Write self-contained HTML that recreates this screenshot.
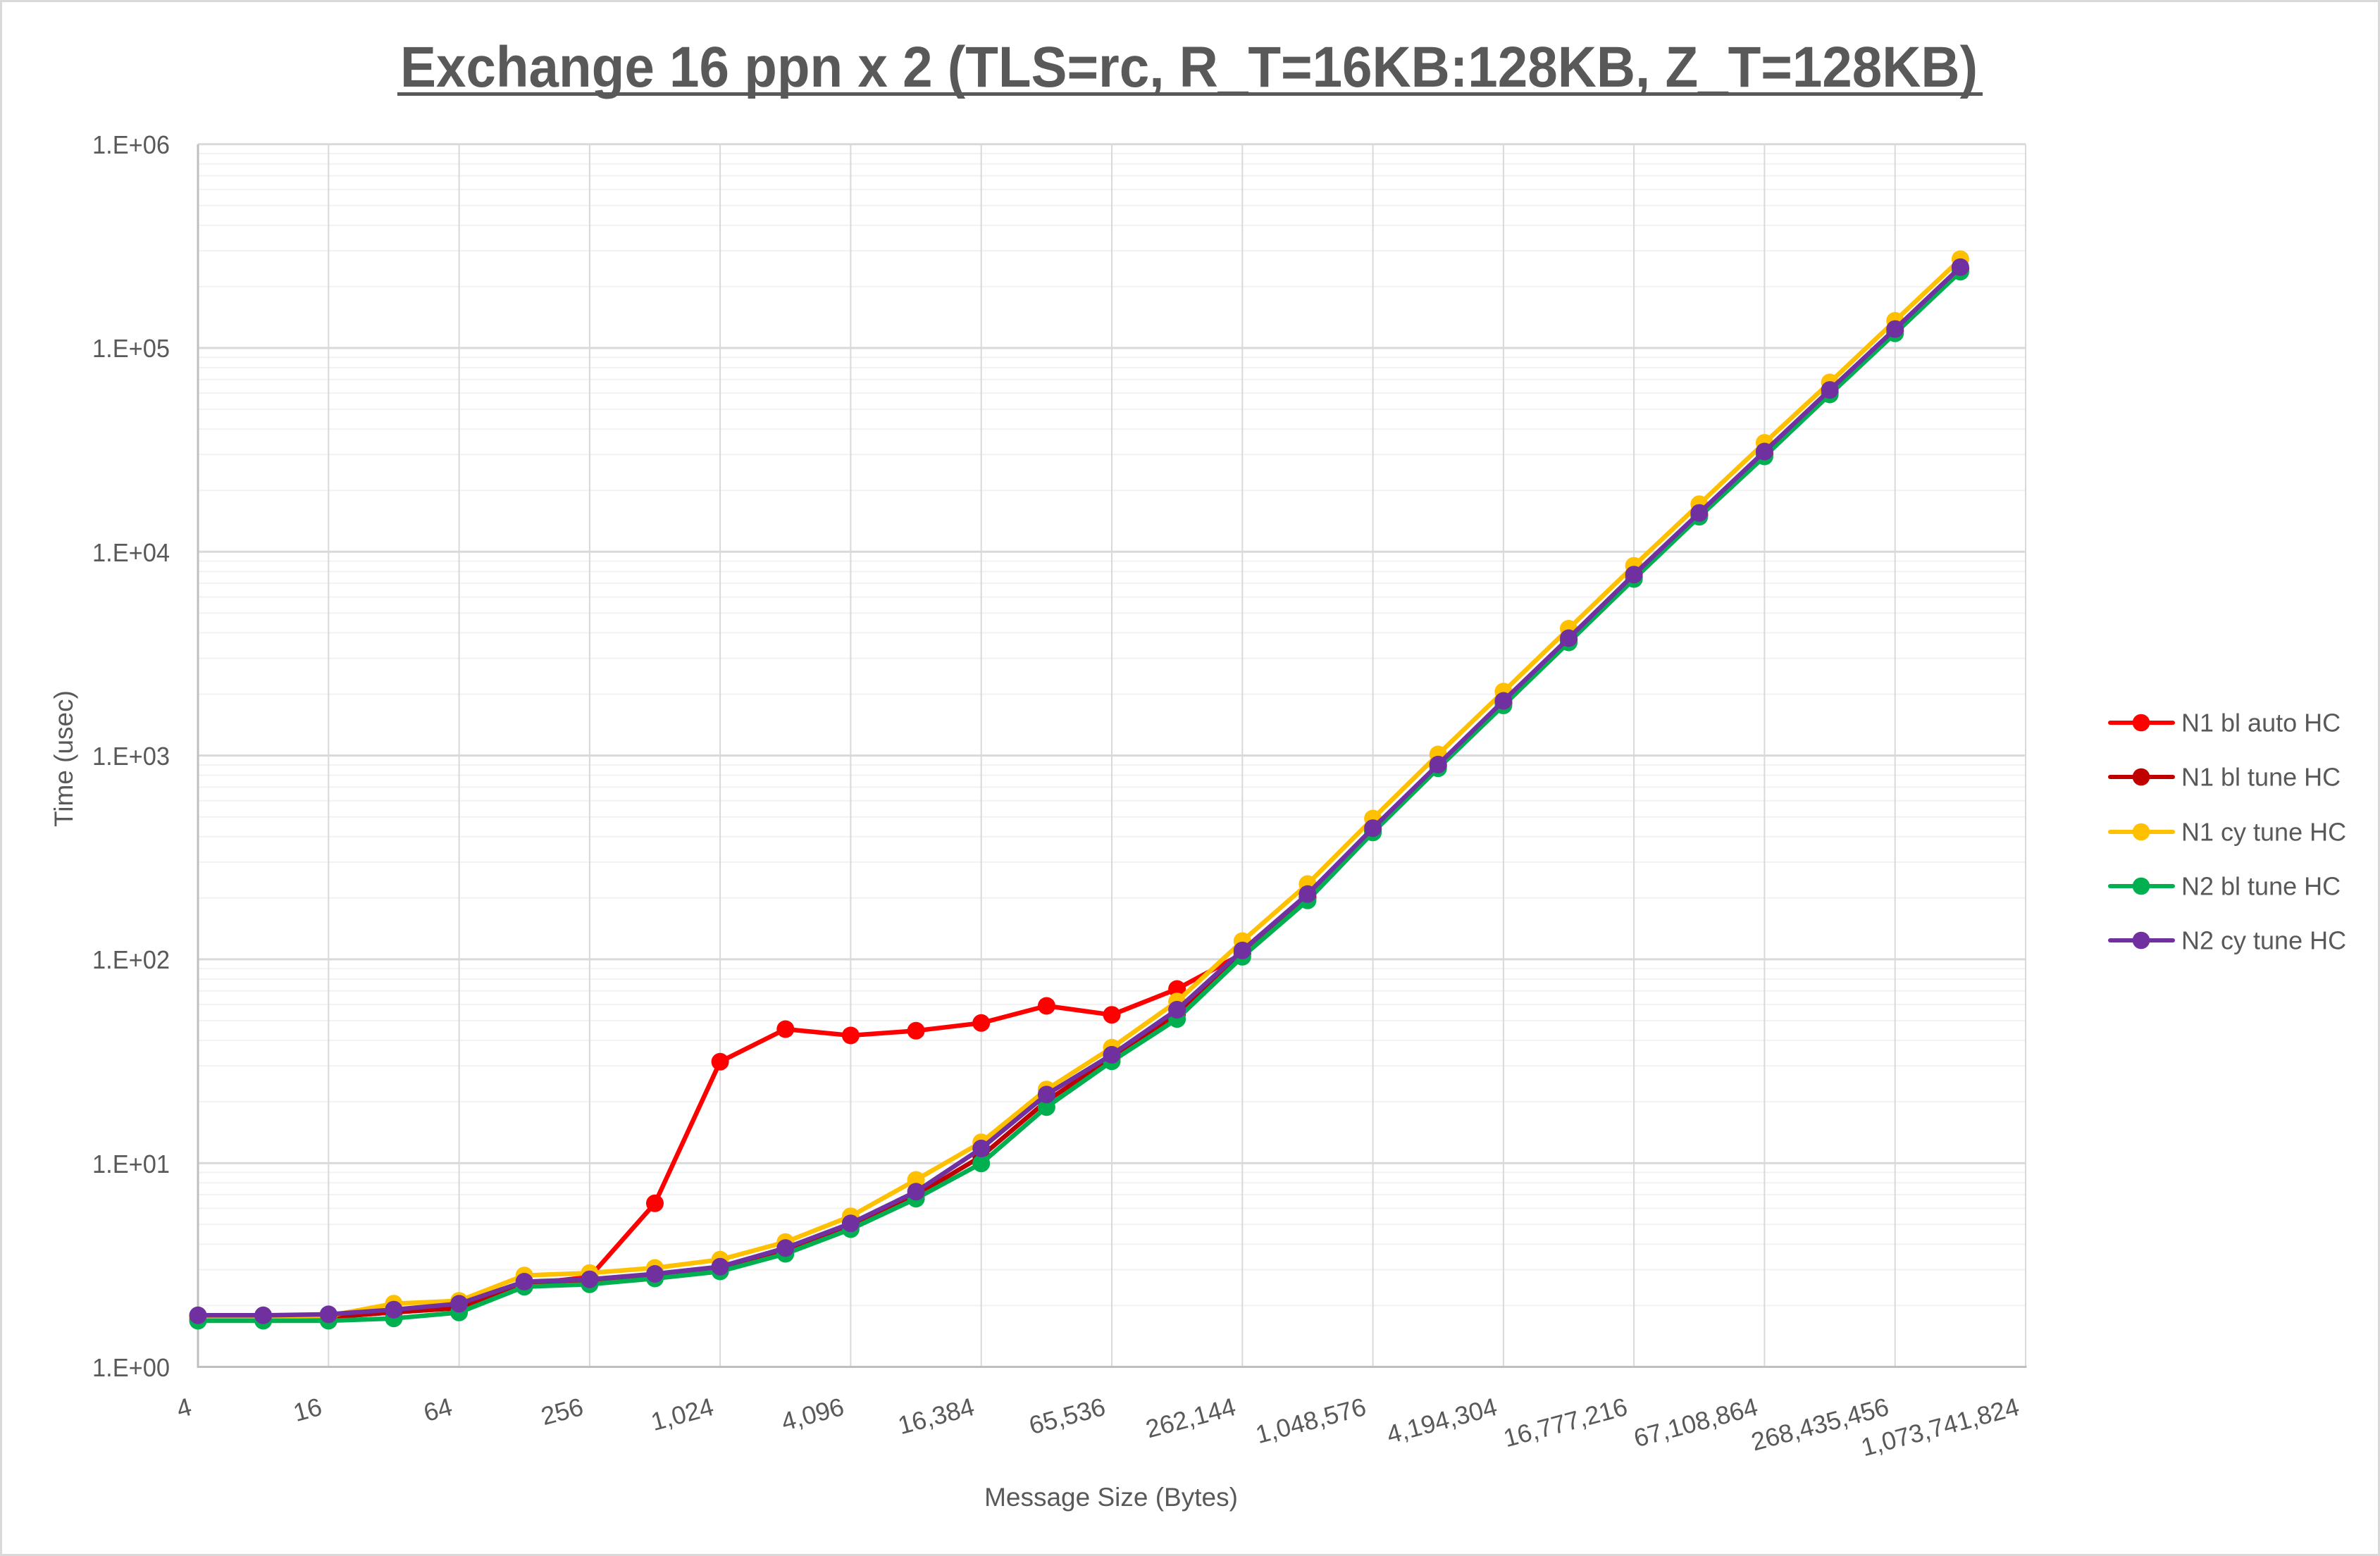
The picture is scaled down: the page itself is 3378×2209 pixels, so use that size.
<!DOCTYPE html>
<html>
<head>
<meta charset="utf-8">
<style>
  html,body{margin:0;padding:0;background:#fff;}
  svg{display:block;}
  text{font-family:"Liberation Sans", Arial, sans-serif; fill:#595959;}
</style>
</head>
<body>
<svg width="3378" height="2209" viewBox="0 0 3378 2209" xmlns="http://www.w3.org/2000/svg">
  <defs>
    <g id="minor">
      <line x1="281" x2="2875" y1="-87.09" y2="-87.09"/>
      <line x1="281" x2="2875" y1="-138.03" y2="-138.03"/>
      <line x1="281" x2="2875" y1="-174.18" y2="-174.18"/>
      <line x1="281" x2="2875" y1="-202.21" y2="-202.21"/>
      <line x1="281" x2="2875" y1="-225.12" y2="-225.12"/>
      <line x1="281" x2="2875" y1="-244.49" y2="-244.49"/>
      <line x1="281" x2="2875" y1="-261.26" y2="-261.26"/>
      <line x1="281" x2="2875" y1="-276.06" y2="-276.06"/>
    </g>
    <marker id="mR" markerUnits="userSpaceOnUse" markerWidth="28" markerHeight="28" refX="14" refY="14" overflow="visible"><circle cx="14" cy="14" r="12.5" fill="#FF0000"/></marker>
    <marker id="mD" markerUnits="userSpaceOnUse" markerWidth="28" markerHeight="28" refX="14" refY="14" overflow="visible"><circle cx="14" cy="14" r="12.5" fill="#C00000"/></marker>
    <marker id="mY" markerUnits="userSpaceOnUse" markerWidth="28" markerHeight="28" refX="14" refY="14" overflow="visible"><circle cx="14" cy="14" r="12.5" fill="#FFC000"/></marker>
    <marker id="mG" markerUnits="userSpaceOnUse" markerWidth="28" markerHeight="28" refX="14" refY="14" overflow="visible"><circle cx="14" cy="14" r="12.5" fill="#00B050"/></marker>
    <marker id="mP" markerUnits="userSpaceOnUse" markerWidth="28" markerHeight="28" refX="14" refY="14" overflow="visible"><circle cx="14" cy="14" r="12.5" fill="#7030A0"/></marker>
  </defs>

  <!-- outer border -->
  <rect x="1.5" y="1.5" width="3375" height="2206" fill="#fff" stroke="#d9d9d9" stroke-width="3"/>

  <!-- title -->
  <text x="568" y="123" font-size="82" font-weight="bold" textLength="2239" lengthAdjust="spacingAndGlyphs">Exchange 16 ppn x 2 (TLS=rc, R_T=16KB:128KB, Z_T=128KB)</text>
  <rect x="564" y="131" width="2250" height="5" fill="#595959"/>

  <!-- minor gridlines -->
  <g stroke="#f2f2f2" stroke-width="2">
    <use href="#minor" y="1940.5"/>
    <use href="#minor" y="1651.2"/>
    <use href="#minor" y="1361.9"/>
    <use href="#minor" y="1072.6"/>
    <use href="#minor" y="783.3"/>
    <use href="#minor" y="494.0"/>
  </g>

  <!-- vertical gridlines -->
  <g stroke="#d9d9d9" stroke-width="2">
    <line x1="466.3" x2="466.3" y1="204.7" y2="1940.5"/>
    <line x1="651.6" x2="651.6" y1="204.7" y2="1940.5"/>
    <line x1="836.9" x2="836.9" y1="204.7" y2="1940.5"/>
    <line x1="1022.1" x2="1022.1" y1="204.7" y2="1940.5"/>
    <line x1="1207.4" x2="1207.4" y1="204.7" y2="1940.5"/>
    <line x1="1392.7" x2="1392.7" y1="204.7" y2="1940.5"/>
    <line x1="1578.0" x2="1578.0" y1="204.7" y2="1940.5"/>
    <line x1="1763.3" x2="1763.3" y1="204.7" y2="1940.5"/>
    <line x1="1948.6" x2="1948.6" y1="204.7" y2="1940.5"/>
    <line x1="2133.9" x2="2133.9" y1="204.7" y2="1940.5"/>
    <line x1="2319.1" x2="2319.1" y1="204.7" y2="1940.5"/>
    <line x1="2504.4" x2="2504.4" y1="204.7" y2="1940.5"/>
    <line x1="2689.7" x2="2689.7" y1="204.7" y2="1940.5"/>
    <line x1="2875" x2="2875" y1="204.7" y2="1940.5"/>
  </g>

  <!-- major horizontal gridlines -->
  <g stroke="#d9d9d9" stroke-width="3">
    <line x1="281" x2="2875" y1="204.7" y2="204.7"/>
    <line x1="281" x2="2875" y1="494.0" y2="494.0"/>
    <line x1="281" x2="2875" y1="783.3" y2="783.3"/>
    <line x1="281" x2="2875" y1="1072.6" y2="1072.6"/>
    <line x1="281" x2="2875" y1="1361.9" y2="1361.9"/>
    <line x1="281" x2="2875" y1="1651.2" y2="1651.2"/>
  </g>

  <!-- axes -->
  <g stroke="#bfbfbf" stroke-width="3">
    <line x1="281" x2="281" y1="204.7" y2="1942"/>
    <line x1="279.5" x2="2876.5" y1="1940.5" y2="1940.5"/>
  </g>

  <!-- y tick labels -->
  <g font-size="36" text-anchor="end">
    <text x="241" y="218" textLength="110" lengthAdjust="spacingAndGlyphs">1.E+06</text>
    <text x="241" y="507" textLength="110" lengthAdjust="spacingAndGlyphs">1.E+05</text>
    <text x="241" y="797" textLength="110" lengthAdjust="spacingAndGlyphs">1.E+04</text>
    <text x="241" y="1086" textLength="110" lengthAdjust="spacingAndGlyphs">1.E+03</text>
    <text x="241" y="1375" textLength="110" lengthAdjust="spacingAndGlyphs">1.E+02</text>
    <text x="241" y="1665" textLength="110" lengthAdjust="spacingAndGlyphs">1.E+01</text>
    <text x="241" y="1954" textLength="110" lengthAdjust="spacingAndGlyphs">1.E+00</text>
  </g>

  <!-- x tick labels -->
  <g font-size="36" text-anchor="end">
    <text transform="translate(274,2008) rotate(-15)">4</text>
    <text transform="translate(459,2008) rotate(-15)">16</text>
    <text transform="translate(644,2008) rotate(-15)">64</text>
    <text transform="translate(830,2008) rotate(-15)">256</text>
    <text transform="translate(1015,2008) rotate(-15)">1,024</text>
    <text transform="translate(1200,2008) rotate(-15)">4,096</text>
    <text transform="translate(1385,2008) rotate(-15)">16,384</text>
    <text transform="translate(1571,2008) rotate(-15)">65,536</text>
    <text transform="translate(1756,2008) rotate(-15)">262,144</text>
    <text transform="translate(1941,2008) rotate(-15)">1,048,576</text>
    <text transform="translate(2127,2008) rotate(-15)">4,194,304</text>
    <text transform="translate(2312,2008) rotate(-15)">16,777,216</text>
    <text transform="translate(2497,2008) rotate(-15)">67,108,864</text>
    <text transform="translate(2683,2008) rotate(-15)">268,435,456</text>
    <text transform="translate(2868,2008) rotate(-15)">1,073,741,824</text>
  </g>

  <!-- axis titles -->
  <text transform="translate(103,1077) rotate(-90)" font-size="37" text-anchor="middle">Time (usec)</text>
  <text x="1577" y="2138" font-size="37" text-anchor="middle">Message Size (Bytes)</text>

  <!-- series -->
  <g fill="none" stroke-width="6.5" stroke-linejoin="round" stroke-linecap="round">
    <polyline stroke="#FF0000" marker-start="url(#mR)" marker-mid="url(#mR)" marker-end="url(#mR)"
      points="281,1871 373.6,1871 466.3,1870 558.9,1863 651.6,1857 744.2,1823 836.9,1813 929.5,1708.3 1022.1,1507.3 1114.8,1461 1207.4,1470 1300.1,1463.3 1392.7,1452.3 1485.4,1428 1578,1440.7 1670.6,1404 1763.3,1354 1855.9,1274 1948.6,1179 2041.2,1088 2133.9,998 2226.5,909 2319.1,819 2411.8,731 2504.4,645 2597.1,557 2689.7,470 2782.4,382.5"/>
    <polyline stroke="#C00000" marker-start="url(#mD)" marker-mid="url(#mD)" marker-end="url(#mD)"
      points="281,1871 373.6,1871 466.3,1870 558.9,1863 651.6,1857 744.2,1823 836.9,1820 929.5,1812 1022.1,1802 1114.8,1776 1207.4,1741 1300.1,1697 1392.7,1641.7 1485.4,1563 1578,1502 1670.6,1440 1763.3,1354 1855.9,1274 1948.6,1179 2041.2,1088 2133.9,998 2226.5,909 2319.1,819 2411.8,731 2504.4,645 2597.1,557 2689.7,470 2782.4,382.5"/>
    <polyline stroke="#FFC000" marker-start="url(#mY)" marker-mid="url(#mY)" marker-end="url(#mY)"
      points="281,1869.5 373.6,1869.5 466.3,1868.1 558.9,1850.7 651.6,1846.7 744.2,1810.7 836.9,1807.3 929.5,1800 1022.1,1788.3 1114.8,1763.3 1207.4,1726.7 1300.1,1675 1392.7,1621.7 1485.4,1546.7 1578,1487.3 1670.6,1421.7 1763.3,1336 1855.9,1255 1948.6,1162 2041.2,1071 2133.9,981.8 2226.5,892.5 2319.1,803.2 2411.8,715.8 2504.4,628.6 2597.1,542.9 2689.7,455.4 2782.4,367.9"/>
    <polyline stroke="#00B050" marker-start="url(#mG)" marker-mid="url(#mG)" marker-end="url(#mG)"
      points="281,1875 373.6,1875 466.3,1875 558.9,1871.7 651.6,1863.3 744.2,1826.7 836.9,1823.3 929.5,1815 1022.1,1805 1114.8,1780 1207.4,1745 1300.1,1701.7 1392.7,1651.7 1485.4,1571.7 1578,1506.7 1670.6,1446.7 1763.3,1358.3 1855.9,1278.3 1948.6,1181.8 2041.2,1090.7 2133.9,1001.4 2226.5,912 2319.1,822 2411.8,733.6 2504.4,648 2597.1,560 2689.7,473.2 2782.4,385.7"/>
    <polyline stroke="#7030A0" marker-start="url(#mP)" marker-mid="url(#mP)" marker-end="url(#mP)"
      points="281,1867.3 373.6,1867.3 466.3,1865.9 558.9,1859.2 651.6,1850.9 744.2,1819.5 836.9,1816.2 929.5,1808.5 1022.1,1798.3 1114.8,1771.8 1207.4,1736.8 1300.1,1691.8 1392.7,1630.4 1485.4,1553.9 1578,1497.4 1670.6,1433.4 1763.3,1349.3 1855.9,1269.3 1948.6,1175.7 2041.2,1085.4 2133.9,995 2226.5,906 2319.1,815.7 2411.8,728.2 2504.4,641 2597.1,553.6 2689.7,467.1 2782.4,379.3"/>
  </g>

  <!-- legend -->
  <g stroke-width="6" stroke-linecap="round">
    <line x1="2995" x2="3084" y1="1026" y2="1026" stroke="#FF0000"/>
    <line x1="2995" x2="3084" y1="1103" y2="1103" stroke="#C00000"/>
    <line x1="2995" x2="3084" y1="1181" y2="1181" stroke="#FFC000"/>
    <line x1="2995" x2="3084" y1="1258" y2="1258" stroke="#00B050"/>
    <line x1="2995" x2="3084" y1="1335" y2="1335" stroke="#7030A0"/>
  </g>
  <circle cx="3039" cy="1026" r="12.3" fill="#FF0000"/>
  <circle cx="3039" cy="1103" r="12.3" fill="#C00000"/>
  <circle cx="3039" cy="1181" r="12.3" fill="#FFC000"/>
  <circle cx="3039" cy="1258" r="12.3" fill="#00B050"/>
  <circle cx="3039" cy="1335" r="12.3" fill="#7030A0"/>
  <g font-size="36">
    <text x="3096" y="1038.5">N1 bl auto HC</text>
    <text x="3096" y="1115.5">N1 bl tune HC</text>
    <text x="3096" y="1193.5">N1 cy tune HC</text>
    <text x="3096" y="1270.5">N2 bl tune HC</text>
    <text x="3096" y="1347.5">N2 cy tune HC</text>
  </g>
</svg>
</body>
</html>
